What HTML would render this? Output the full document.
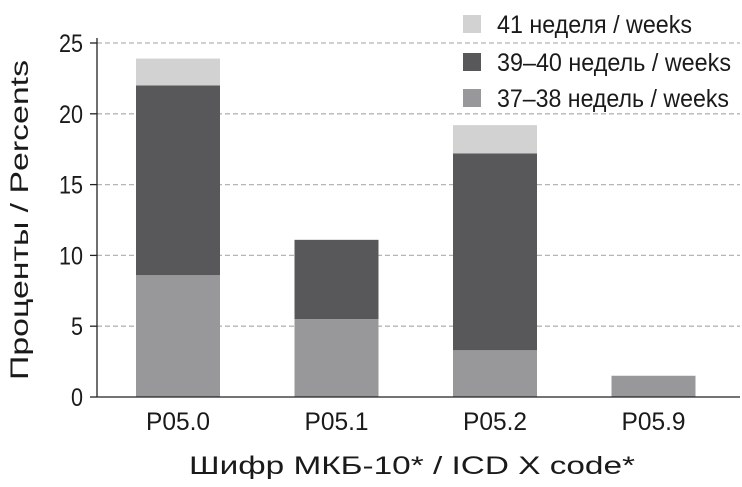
<!DOCTYPE html>
<html><head><meta charset="utf-8"><style>
body{margin:0;background:#fff}
svg text{font-family:"Liberation Sans",sans-serif;fill:#1a1a1a}
</style></head><body>
<svg id="chart" width="742" height="482" xmlns="http://www.w3.org/2000/svg">
<g id="grid"></g><g id="bars"></g><g id="axes"></g>
<text x="412" y="474" text-anchor="middle" font-size="25" textLength="446" lengthAdjust="spacingAndGlyphs">Шифр МКБ-10* / ICD X code*</text>
<text transform="translate(28,220) rotate(-90)" text-anchor="middle" font-size="25" textLength="320" lengthAdjust="spacingAndGlyphs">Проценты / Percents</text>
<g id="legend"></g>
</svg>
<script>
const categories=["P05.0","P05.1","P05.2","P05.9"];
const s3738=[8.6,5.5,3.3,1.5];
const s3940=[13.4,5.6,13.9,0];
const s41=[1.9,0,2.0,0];
const yTicks=[0,5,10,15,20,25];
const seriesNames=["41 неделя / weeks","39–40 недель / weeks","37–38 недель / weeks"];
const colors={s41:"#d2d2d3",s3940:"#58585a",s3738:"#98989b"};
const NS="http://www.w3.org/2000/svg";
const y0=397,ppu=14.16,xL=97,xR=740,slot=158.5,bw=84;
const Y=v=>y0-v*ppu;
const X=i=>178+i*slot;
function mk(t,a,p){const e=document.createElementNS(NS,t);for(const k in a)e.setAttribute(k,a[k]);p.appendChild(e);return e;}
const grid=document.getElementById('grid'),bars=document.getElementById('bars'),axes=document.getElementById('axes'),leg=document.getElementById('legend');
yTicks.forEach(v=>{
 if(v>0){const g=mk('line',{x1:xL,x2:xR,y1:Y(v),y2:Y(v),stroke:"#b5b5b5","stroke-width":1.3,"stroke-dasharray":"5 3"},grid);
 
 }
 const tk=mk('line',{x1:90,x2:xL,y1:Y(v),y2:Y(v),stroke:"#222","stroke-width":1.3},axes);
 
 
 const t=mk('text',{x:83,y:Y(v)+9,"text-anchor":"end","font-size":25,textLength:(v>=10?24:12),lengthAdjust:"spacingAndGlyphs"},axes);t.textContent=v;
 
 
});
categories.forEach((c,i)=>{
 let base=0;
 [["s3738",s3738],["s3940",s3940],["s41",s41]].forEach(([k,arr])=>{
  const v=arr[i];if(v<=0)return;
  const r=mk('rect',{x:X(i)-bw/2,y:Y(base+v),width:bw,height:v*ppu,fill:colors[k]},bars);
  
  
  base+=v;
 });
 const t=mk('text',{x:X(i),y:430,"text-anchor":"middle","font-size":25,textLength:64,lengthAdjust:"spacingAndGlyphs"},axes);t.textContent=c;
 
 
});
const ya=mk('line',{x1:xL,x2:xL,y1:38,y2:y0,stroke:"#222","stroke-width":1.3},axes);


const xa=mk('line',{x1:xL,x2:xR,y1:y0,y2:y0,stroke:"#222","stroke-width":1.3},axes);


const lc=[colors.s41,colors.s3940,colors.s3738],ly=[15,53,89],lw=[195,234,232];
seriesNames.forEach((n,i)=>{
 const r=mk('rect',{x:463,y:ly[i],width:18,height:18,fill:lc[i]},leg);
 
 
 const t=mk('text',{x:497,y:ly[i]+18,"font-size":25,textLength:lw[i],lengthAdjust:"spacingAndGlyphs"},leg);t.textContent=n;
 
 
});
</script>
</body></html>
